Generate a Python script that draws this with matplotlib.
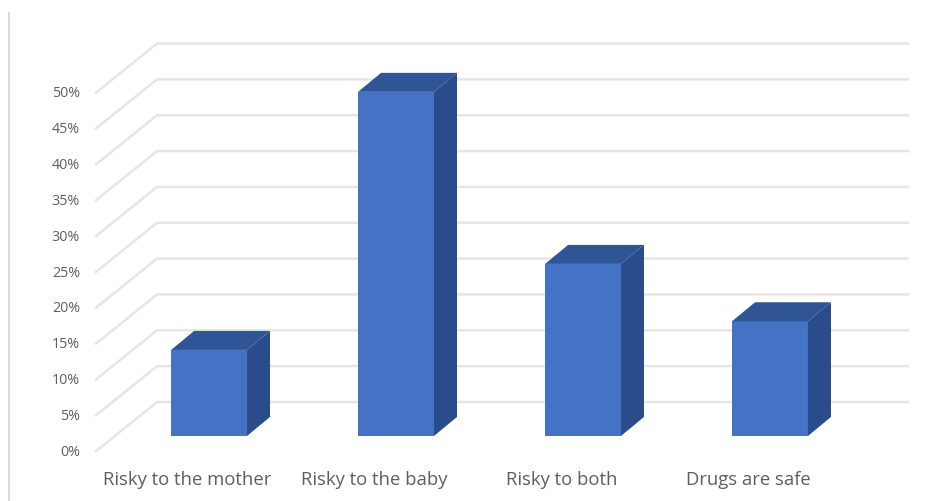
import matplotlib
matplotlib.use("Agg")
import matplotlib.pyplot as plt
from matplotlib.patches import Polygon
import numpy as np

categories = ["Risky to the mother", "Risky to the baby", "Risky to both", "Drugs are safe"]
values = [12, 48, 24, 16]
ticks = [0, 5, 10, 15, 20, 25, 30, 35, 40, 45, 50]
tick_labels = ["0%", "5%", "10%", "15%", "20%", "25%", "30%", "35%", "40%", "45%", "50%"]

front_col = "#4472C4"
top_col = "#2F5597"
side_col = "#2B4C8A"
grid_col = "#E6E6E6"
text_col = "#5F5F5F"

# pseudo 3d geometry (data units)
bar_w = 0.406
depth_x, depth_y = 0.123, 2.65          # bar depth
back_x, back_y = -0.278, 4.74           # back wall left edge / lift
floor_x, floor_y = -0.61, -2.23         # front of the floor
wall_right = 3.743

fig = plt.figure(figsize=(9.37, 5.02), dpi=100)
ax = fig.add_axes([0, 0, 1, 1])
ax.set_xlim(-1.118, 3.893)
ax.set_ylim(-9.07, 60.95)
ax.axis("off")

# gridlines: diagonal on the floor side, then flat along the back wall
for t, lab in zip(ticks, tick_labels):
    ax.plot([floor_x, back_x, wall_right], [t + floor_y, t + back_y, t + back_y],
            color=grid_col, lw=1.8, zorder=1, solid_capstyle="butt")
    ax.text(-0.69, t + floor_y + 0.1, lab, ha="right", va="center",
            fontsize=10.3, color=text_col, family="Open Sans")

x = np.arange(len(categories))
ax.bar(x, values, width=bar_w, color=front_col, zorder=3)
for xi, v in zip(x, values):
    l, r = xi - bar_w / 2, xi + bar_w / 2
    top = [(l, v), (r, v), (r + depth_x, v + depth_y), (l + depth_x, v + depth_y)]
    side = [(r, 0), (r + depth_x, depth_y), (r + depth_x, v + depth_y), (r, v)]
    ax.add_patch(Polygon(top, closed=True, color=top_col, zorder=3, lw=0))
    ax.add_patch(Polygon(side, closed=True, color=side_col, zorder=3, lw=0))

for xi, c in zip(x, categories):
    ax.text(xi - 0.115, -6.0, c, ha="center", va="center",
            fontsize=13.3, color=text_col, family="Open Sans")

# left frame edge
ax.plot([-1.07, -1.07], [-9.07, 59.0], color="#D9D9D9", lw=1.5, zorder=1)

fig.savefig("out.png", dpi=100)
